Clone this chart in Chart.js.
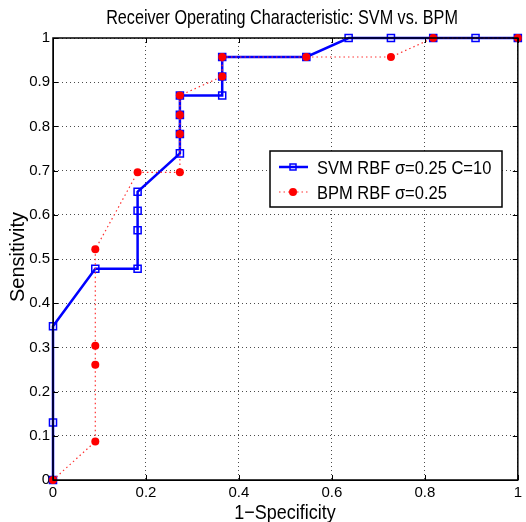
<!DOCTYPE html>
<html>
<head>
<meta charset="utf-8">
<script src="https://cdn.jsdelivr.net/npm/chart.js@4/dist/chart.umd.min.js"></script>
<style>
html,body{margin:0;padding:0;background:#fff;}
canvas{display:block;}
</style>
</head>
<body>
<canvas id="c" width="526" height="522"></canvas>
<script>
// ---- data ----
const chartTitle = "Receiver Operating Characteristic: SVM vs. BPM";
const xTitle = "1\u2212Specificity";
const yTitle = "Sensitivity";
const svmLabel = "SVM RBF \u03c3=0.25 C=10";
const bpmLabel = "BPM RBF \u03c3=0.25";

const svmX = [0, 0, 0, 0.091, 0.182, 0.182, 0.182, 0.182, 0.273, 0.273, 0.273, 0.273, 0.364, 0.364, 0.364, 0.545, 0.636, 0.727, 0.818, 0.909, 1];
const svmY = [0, 0.130, 0.348, 0.478, 0.478, 0.565, 0.609, 0.652, 0.739, 0.783, 0.826, 0.870, 0.870, 0.913, 0.957, 0.957, 1, 1, 1, 1, 1];

const bpmX = [0, 0.091, 0.091, 0.091, 0.091, 0.182, 0.273, 0.273, 0.273, 0.273, 0.364, 0.364, 0.545, 0.727, 0.818, 1];
const bpmY = [0, 0.087, 0.261, 0.304, 0.522, 0.696, 0.696, 0.783, 0.826, 0.870, 0.913, 0.957, 0.957, 0.957, 1, 1];

const xTicks = [0, 0.2, 0.4, 0.6, 0.8, 1];
const yTicks = [0, 0.1, 0.2, 0.3, 0.4, 0.5, 0.6, 0.7, 0.8, 0.9, 1];

const FONT = "Arial, 'Liberation Sans', sans-serif";

const toPts = (xs, ys) => xs.map((x, i) => ({x: x, y: ys[i]}));

function stretchedText(ctx, text, x, y, size, sy, align) {
  ctx.save();
  ctx.translate(x, y);
  ctx.scale(1, sy);
  ctx.font = size + 'px ' + FONT;
  ctx.textAlign = align;
  ctx.textBaseline = 'alphabetic';
  ctx.fillStyle = '#000';
  ctx.fillText(text, 0, 0);
  ctx.restore();
}

const framePlugin = {
  id: 'frame',
  afterDraw(chart) {
    const ctx = chart.ctx;
    const a = chart.chartArea;
    const xs = chart.scales.x, ys = chart.scales.y;
    ctx.save();
    ctx.strokeStyle = '#000';
    ctx.lineWidth = 1;
    // inward ticks on all four sides
    ctx.beginPath();
    xTicks.forEach(v => {
      const px = Math.round(xs.getPixelForValue(v)) + 0.5;
      ctx.moveTo(px, a.bottom); ctx.lineTo(px, a.bottom - 5);
      ctx.moveTo(px, a.top); ctx.lineTo(px, a.top + 5);
    });
    yTicks.forEach(v => {
      const py = Math.round(ys.getPixelForValue(v)) + 0.5;
      ctx.moveTo(a.left, py); ctx.lineTo(a.left + 5, py);
      ctx.moveTo(a.right, py); ctx.lineTo(a.right - 5, py);
    });
    ctx.stroke();
    ctx.lineWidth = 1.5;
    ctx.strokeRect(a.left, a.top, a.right - a.left, a.bottom - a.top);

    // title and axis titles
    stretchedText(ctx, chartTitle, 282, 24, 16.2, 1.25, 'center');
    stretchedText(ctx, xTitle, 285, 519, 18, 1.15, 'center');
    ctx.save();
    ctx.translate(24, 257);
    ctx.rotate(-Math.PI / 2);
    ctx.font = '20px ' + FONT;
    ctx.textAlign = 'center';
    ctx.textBaseline = 'alphabetic';
    ctx.fillStyle = '#000';
    ctx.fillText(yTitle, 0, 0);
    ctx.restore();

    // legend
    const L = 270, T = 151, R = 502, B = 207;
    ctx.fillStyle = '#fff';
    ctx.fillRect(L, T, R - L, B - T);
    ctx.lineWidth = 1.5;
    ctx.strokeStyle = '#000';
    ctx.strokeRect(L, T, R - L, B - T);
    const rows = [
      {ds: chart.data.datasets[0], y: 167, base: 174},
      {ds: chart.data.datasets[1], y: 192, base: 199}
    ];
    rows.forEach((r, i) => {
      const ds = r.ds;
      ctx.save();
      ctx.strokeStyle = ds.borderColor;
      ctx.lineWidth = ds.borderWidth;
      ctx.setLineDash(ds.borderDash || []);
      ctx.beginPath();
      ctx.moveTo(279, r.y); ctx.lineTo(308, r.y);
      ctx.stroke();
      ctx.setLineDash([]);
      if (i === 0) {
        ctx.lineWidth = 1.5;
        ctx.strokeStyle = ds.pointBorderColor;
        ctx.strokeRect(290, r.y - 3, 6, 6);
      } else {
        ctx.fillStyle = ds.pointBackgroundColor;
        ctx.beginPath();
        ctx.arc(293, r.y, 4, 0, Math.PI * 2);
        ctx.fill();
      }
      ctx.restore();
      stretchedText(ctx, ds.label, 317, r.base, 16.5, 1.13, 'left');
    });
    ctx.restore();
  }
};

new Chart(document.getElementById('c'), {
  type: 'scatter',
  data: {
    datasets: [
      {
        label: svmLabel,
        data: toPts(svmX, svmY),
        showLine: true,
        borderColor: '#0000ff',
        borderWidth: 2.5,
        pointStyle: 'rect',
        pointRadius: 5,
        pointBorderWidth: 1.5,
        pointBorderColor: '#0000ff',
        pointBackgroundColor: 'rgba(0,0,0,0)',
        tension: 0,
        clip: false,
        order: 1
      },
      {
        label: bpmLabel,
        data: toPts(bpmX, bpmY),
        showLine: true,
        borderColor: '#ff3030',
        borderWidth: 1.2,
        borderDash: [1.5, 3],
        pointStyle: 'circle',
        pointRadius: 4,
        pointBorderWidth: 0,
        pointBorderColor: '#ff0000',
        pointBackgroundColor: '#ff0000',
        tension: 0,
        clip: false,
        order: 0
      }
    ]
  },
  options: {
    responsive: false,
    animation: false,
    devicePixelRatio: 1,
    layout: {padding: {left: 0, right: 4, top: 38, bottom: 0}},
    plugins: {legend: {display: false}, tooltip: {enabled: false}, title: {display: false}},
    scales: {
      x: {
        type: 'linear', min: 0, max: 1,
        afterBuildTicks(s) { s.ticks = xTicks.map(v => ({value: v})); },
        afterFit(s) { s.height = 42; },
        ticks: {color: '#000', font: {family: FONT, size: 15}, padding: 4, maxRotation: 0,
                callback: v => String(+v.toFixed(2))},
        grid: {color: 'rgba(0,0,0,0.7)', lineWidth: 1, drawTicks: false, tickLength: 0},
        border: {display: true, color: '#000', dash: [1, 3]}
      },
      y: {
        type: 'linear', min: 0, max: 1,
        afterBuildTicks(s) { s.ticks = yTicks.map(v => ({value: v})); },
        afterFit(s) { s.width = 53; },
        ticks: {color: '#000', font: {family: FONT, size: 15}, padding: 3,
                callback: v => String(+v.toFixed(2))},
        grid: {color: 'rgba(0,0,0,0.7)', lineWidth: 1, drawTicks: false, tickLength: 0},
        border: {display: true, color: '#000', dash: [1, 3]}
      }
    }
  },
  plugins: [framePlugin]
});
</script>
</body>
</html>
